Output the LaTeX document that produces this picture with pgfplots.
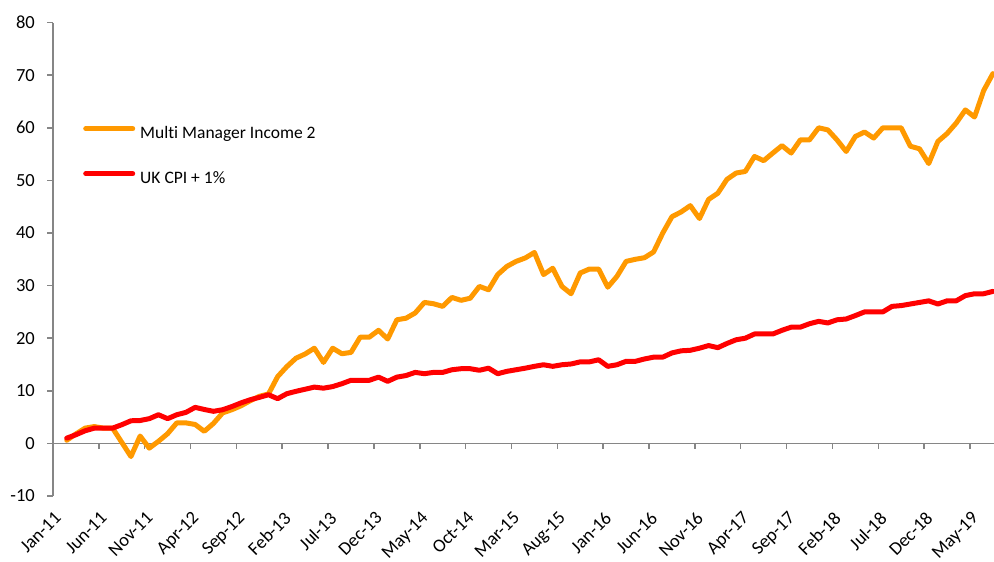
\documentclass[border=0pt]{standalone}
\usepackage{fontspec}
\setmainfont{Carlito}[Ligatures=NoCommon]
\usepackage{pgfplots}
\pgfplotsset{compat=1.18}
\usepackage{pgfplotstable}
\definecolor{mmorange}{RGB}{255,153,0}
\definecolor{cpired}{RGB}{255,0,0}
\definecolor{axgray}{RGB}{134,134,134}
\newcommand{\tickfont}{\fontsize{18.5bp}{22bp}\selectfont}

\pgfplotstableread{
i mm cpi
1 0.6 1.0
2 1.8 1.65
3 2.9 2.4
4 3.2 2.9
5 2.9 2.9
6 2.9 2.9
7 0.2 3.55
8 -2.5 4.3
9 1.4 4.35
10 -0.9 4.7
11 0.4 5.45
12 1.85 4.7
13 3.9 5.45
14 3.9 5.9
15 3.6 6.85
16 2.3 6.45
17 3.8 6.1
18 5.8 6.4
19 6.4 7.0
20 7.15 7.7
21 8.1 8.3
22 8.95 8.75
23 9.4 9.25
24 12.7 8.5
25 14.6 9.45
26 16.2 9.9
27 17.0 10.3
28 18.1 10.7
29 15.4 10.5
30 18.1 10.8
31 17.05 11.35
32 17.3 12.0
33 20.2 12.0
34 20.2 12.0
35 21.5 12.6
36 19.85 11.8
37 23.5 12.6
38 23.8 12.9
39 24.8 13.5
40 26.8 13.25
41 26.55 13.5
42 26.05 13.5
43 27.75 14.0
44 27.2 14.2
45 27.6 14.2
46 29.85 13.9
47 29.2 14.3
48 32.1 13.25
49 33.65 13.7
50 34.6 14.0
51 35.25 14.3
52 36.3 14.65
53 32.1 14.95
54 33.3 14.65
55 29.85 14.95
56 28.45 15.1
57 32.4 15.5
58 33.15 15.5
59 33.15 15.9
60 29.7 14.65
61 31.75 14.95
62 34.6 15.6
63 35.0 15.6
64 35.3 16.05
65 36.4 16.4
66 40.0 16.4
67 43.1 17.2
68 44.0 17.6
69 45.2 17.7
70 42.75 18.1
71 46.4 18.6
72 47.55 18.2
73 50.2 19.0
74 51.4 19.7
75 51.7 20.0
76 54.55 20.8
77 53.75 20.8
78 55.2 20.8
79 56.6 21.5
80 55.2 22.1
81 57.7 22.1
82 57.7 22.75
83 60.0 23.2
84 59.6 22.9
85 57.7 23.5
86 55.5 23.65
87 58.35 24.3
88 59.2 25.0
89 58.05 25.0
90 60.0 25.0
91 60.0 26.05
92 60.0 26.2
93 56.5 26.5
94 56.0 26.8
95 53.2 27.1
96 57.4 26.5
97 58.9 27.1
98 60.9 27.1
99 63.4 28.1
100 62.05 28.45
101 67.1 28.45
102 70.3 28.9
}\datatable

\begin{document}
\begin{tikzpicture}
\useasboundingbox (-53bp,-66bp) rectangle (941bp,496bp);
\begin{axis}[
  at={(0,0)}, anchor=south west,
  scale only axis, width=940.8bp, height=473.4bp,
  xmin=-0.5, xmax=102.1, ymin=-10, ymax=80,
  axis x line=bottom, axis y line=left,
  axis line style={-, draw=axgray, line width=1.5bp},
  x axis line style={draw=none},
  ytick={-10,0,...,80},
  tick align=outside, major tick length=6bp,
  ytick style={draw=axgray, line width=1.5bp},
  xtick={0,5,...,100},
  xticklabels={Jan-11,Jun-11,Nov-11,Apr-12,Sep-12,Feb-13,Jul-13,Dec-13,May-14,Oct-14,Mar-15,Aug-15,Jan-16,Jun-16,Nov-16,Apr-17,Sep-17,Feb-18,Jul-18,Dec-18,May-19},
  xtick style={draw=none},
  every tick label/.append style={font=\tickfont, text=black},
  xticklabel style={font=\tickfont, xshift=-4bp, yshift=-7bp, rotate=45, anchor=north east, inner sep=1bp},
  yticklabel style={font=\tickfont, anchor=east, inner sep=0pt, xshift=-12bp},
  /pgf/number format/assume math mode=true,
  legend style={draw=none, fill=none, at={(0.0319,0.7814)}, anchor=north west,
    inner sep=0pt, row sep=29bp, font=\fontsize{17.5bp}{21bp}\selectfont,
    nodes={inner sep=0pt, text height=12bp, text depth=4bp},
    /tikz/every odd column/.style={column sep=5bp}},
  legend cell align=left,
  legend image code/.code={\draw[#1, line width=5bp, line cap=round] (2.5bp,5.5bp) -- (49.5bp,5.5bp);},
]
\draw[axgray, line width=1.5bp] (axis cs:-0.5,0) -- (axis cs:102.1,0);
\pgfplotsinvokeforeach{-0.5,4.5,9.5,14.5,19.5,24.5,29.5,34.5,39.5,44.5,49.5,54.5,59.5,64.5,69.5,74.5,79.5,84.5,89.5,94.5,99.5}{
  \draw[axgray, line width=1.5bp] (axis cs:#1,0) -- ([yshift=-6bp]axis cs:#1,0);
}
\addplot[mmorange, line width=5bp, line join=round, line cap=round] table[x=i, y=mm] {\datatable};
\addlegendentry{Multi Manager Income 2}
\addplot[cpired, line width=5bp, line join=round, line cap=round] table[x=i, y=cpi] {\datatable};
\addlegendentry{UK CPI + 1\%}
\end{axis}
\end{tikzpicture}
\end{document}
